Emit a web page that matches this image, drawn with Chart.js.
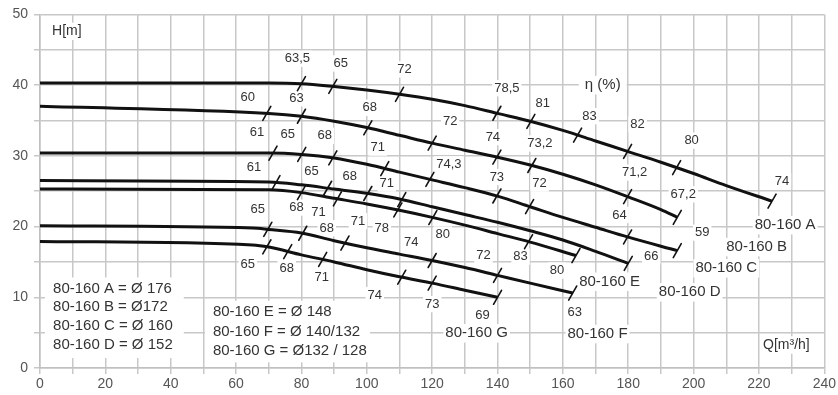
<!DOCTYPE html>
<html>
<head>
<meta charset="utf-8">
<script src="https://cdn.jsdelivr.net/npm/chart.js@4.4.1/dist/chart.umd.min.js"></script>
<style>
html,body{margin:0;padding:0;background:#fff;}
canvas{display:block;}
</style>
</head>
<body>
<canvas id="c" width="838" height="395"></canvas>
<script>
// ---- Data: pump curves H(Q) ----
const curveNames = ['80-160 A','80-160 B','80-160 C','80-160 D','80-160 E','80-160 F','80-160 G'];
const qA=[0,70,80,90,100,110,120,130,140,150,160,170,180,190,200,210,224];
const hA=[40.3,40.3,40.2,39.8,39.3,38.7,38.0,37.1,36.0,34.9,33.6,32.1,30.6,29.1,27.5,25.8,23.6];
const qB=[0,70,80,90,100,110,120,130,140,150,160,170,180,190,195];
const hB=[37.0,36.0,35.6,34.9,34.0,32.9,31.8,30.8,29.8,28.7,27.4,25.9,24.2,22.4,21.3];
const qC=[0,70,80,90,100,110,120,130,140,150,160,170,180,195];
const hC=[30.4,30.4,30.2,29.7,28.8,27.7,26.6,25.5,24.3,22.8,21.3,19.9,18.5,16.6];
const qD=[0,70,80,90,100,110,120,130,140,150,160,170,180];
const hD=[26.5,26.3,25.9,25.3,24.7,23.9,22.8,21.7,20.6,19.4,18.1,16.5,14.8];
const qE=[0,70,80,90,100,110,120,130,140,150,164];
const hE=[25.3,25.2,24.8,24.0,23.2,22.3,21.3,20.2,19.0,17.8,15.9];
const qF=[0,65,70,80,90,100,110,120,130,140,150,163];
const hF=[20.1,19.8,19.6,19.1,18.0,17.0,16.1,15.2,14.2,13.1,12.0,10.6];
const qG=[0,65,70,80,90,100,110,120,130,140];
const hG=[17.9,17.4,17.1,16.0,15.0,13.9,12.9,12.0,11.0,10.0];

// ---- Efficiency markers (Q where marked, efficiency label) ----
const effQA=[80,89.6,110,139.8,150.2,164.5,179.8,194.8,224];
const effA=['63,5','65','72','78,5','81','83','82','80','74'];
const effQB=[69.4,80,100.3,120,139.8,150.5,179.8,195];
const effB=['60','63','68','72','74','73,2','71,2','67,2'];
const effQC=[71.3,80.1,89.6,105.5,119.3,139.8,149.8,179.8,195];
const effC=['61','65','68','71','74,3','73','72','64','59'];
const effQD=[72.2,88,100.3,110.7,180];
const effD=['61','65','68','71','66'];
const effQE=[80,91,109.5,120.2,149.5,164];
const effE=['68','71','78','80','83','80'];
const effQF=[69.7,80.4,93.3,120,140,163];
const effF=['65','68','71','74','72','63'];
const effQG=[69.4,75.8,86.5,110.7,120,140];
const effG=['65','68','71','74','73','69'];

// ---- Tick labels ----
const xTickStep=10, xLabelEvery=20, yTickStep=5, yLabelEvery=10;

// ---- Text content ----
const legendLeft=['80-160 A = Ø 176','80-160 B = Ø172','80-160 C = Ø 160','80-160 D = Ø 152'];
const legendRight=['80-160 E = Ø 148','80-160 F = Ø 140/132','80-160 G = Ø132 / 128'];

// ---- Layout (label placement, not data) ----
const effOffsets=[
 [[-4,-25],[8,-23],[5,-25],[10,-25],[12,-18],[12,-19],[10,-27],[15,-27],[10,-20]],
 [[-19,-16],[-5,-18],[2,-20],[18,-22],[-4,-20],[8,-22],[7,-24],[6,-23]],
 [[-16,-21],[-14,-20],[-8,-22],[-7,-21],[19,-15],[0,-19],[10,-23],[-8,-22],[25,-18]],
 [[-22,-15],[-16,-17],[-18,-17],[-15,-16],[23,-7]],
 [[-5,15],[-19,14],[-16,18],[10,17],[-8,15],[-19,15]],
 [[-10,-20],[24,-5],[13,-22],[-21,-18],[-14,-20],[2,19]],
 [[-19,18],[-1,17],[-1,18],[-27,18],[0,21],[-15,18]]
];
const namePos=[[228,20.2],[219.3,17.1],[210,14.1],[198.8,10.7],[174.3,12.2],[170.6,4.8],[133.6,4.9]];

const curves=[[qA,hA,effQA,effA],[qB,hB,effQB,effB],[qC,hC,effQC,effC],[qD,hD,effQD,effD],[qE,hE,effQE,effE],[qF,hF,effQF,effF],[qG,hG,effQG,effG]];

function hAt(q,h,x){
  for(let i=0;i<q.length-1;i++){
    if(x>=q[i]&&x<=q[i+1]){const t=(x-q[i])/(q[i+1]-q[i]);return h[i]+t*(h[i+1]-h[i]);}
  }
  return x<q[0]?h[0]:h[h.length-1];
}

const FONT='"Liberation Sans", Arial, Helvetica, sans-serif';
const TXT='#333';

function collectTexts(chart){
  const xs=chart.scales.x, ys=chart.scales.y;
  const P=(q,h)=>[xs.getPixelForValue(q),ys.getPixelForValue(h)];
  const out=[];
  curves.forEach((c,ci)=>{
    const [q,h,eq,el]=c;
    eq.forEach((qq,k)=>{
      const [px,py]=P(qq,hAt(q,h,qq));
      const o=effOffsets[ci][k];
      out.push({t:el[k],x:px+o[0],y:py+o[1],size:13,align:'center',bg:true});
    });
    const [nx,ny]=P(namePos[ci][0],namePos[ci][1]);
    out.push({t:curveNames[ci],x:nx,y:ny,size:15,align:'center',bg:true});
  });
  let p=P(3.7,47.6); out.push({t:'H[m]',x:p[0],y:p[1],size:14,align:'left',bg:true});
  p=P(172.2,40.0); out.push({t:'η (%)',x:p[0],y:p[1],size:15,align:'center',bg:true,pad:6});
  p=P(228.4,3.25); out.push({t:'Q[m³/h]',x:p[0],y:p[1],size:14,align:'center',bg:true});
  [11.16,8.6,5.9,3.25].forEach((hh,i)=>{const pp=P(4.0,hh);out.push({t:legendLeft[i],x:pp[0],y:pp[1],size:15,align:'left'});});
  [7.9,5.1,2.4].forEach((hh,i)=>{const pp=P(52.9,hh);out.push({t:legendRight[i],x:pp[0],y:pp[1],size:15,align:'left'});});
  return out;
}

const annot={
  id:'annot',
  beforeDraw(chart){
    const ctx=chart.ctx;ctx.save();ctx.fillStyle='#fff';ctx.fillRect(0,0,chart.width,chart.height);ctx.restore();
  },
  beforeDatasetsDraw(chart){
    const ctx=chart.ctx;ctx.save();ctx.fillStyle='#fff';
    const xs=chart.scales.x, ys=chart.scales.y;
    let a=[xs.getPixelForValue(1.5),ys.getPixelForValue(12.8)], b=[xs.getPixelForValue(44),ys.getPixelForValue(1.4)];
    ctx.fillRect(a[0],a[1],b[0]-a[0],b[1]-a[1]);
    a=[xs.getPixelForValue(50.5),ys.getPixelForValue(9.5)]; b=[xs.getPixelForValue(101),ys.getPixelForValue(0.8)];
    ctx.fillRect(a[0],a[1],b[0]-a[0],b[1]-a[1]);
    collectTexts(chart).forEach(t=>{
      if(!t.bg)return;
      ctx.font=t.size+'px '+FONT;
      const w=ctx.measureText(t.t).width, pad=t.pad||2;
      const x0=t.align==='left'?t.x:t.x-w/2;
      ctx.fillRect(x0-pad,t.y-t.size*0.55-1,w+2*pad,t.size*1.1+2);
    });
    ctx.restore();
  },
  afterDatasetsDraw(chart){
    const ctx=chart.ctx, xs=chart.scales.x, ys=chart.scales.y;
    ctx.save();
    ctx.strokeStyle='#111';ctx.lineWidth=1.6;ctx.lineCap='round';
    curves.forEach(c=>{
      const [q,h,eq]=c;
      eq.forEach(qq=>{
        const px=xs.getPixelForValue(qq), py=ys.getPixelForValue(hAt(q,h,qq));
        ctx.beginPath();ctx.moveTo(px-4,py+7);ctx.lineTo(px+4,py-7);ctx.stroke();
      });
    });
    ctx.fillStyle=TXT;ctx.textBaseline='middle';
    collectTexts(chart).forEach(t=>{
      ctx.font=t.size+'px '+FONT;ctx.textAlign=t.align;
      ctx.fillText(t.t,t.x,t.y);
    });
    ctx.restore();
  }
};

const datasets=curves.map((c,i)=>({
  label:curveNames[i],
  data:c[0].map((x,k)=>({x:x,y:c[1][k]})),
  borderColor:'#111',borderWidth:3,pointRadius:0,fill:false,
  cubicInterpolationMode:'monotone'
}));

Chart.defaults.font.family=FONT;
new Chart(document.getElementById('c'),{
  type:'line',
  data:{datasets:datasets},
  options:{
    responsive:false,animation:false,devicePixelRatio:1,
    layout:{padding:{top:14,right:13,left:0,bottom:0}},
    plugins:{legend:{display:false},tooltip:{enabled:false},title:{display:false}},
    scales:{
      x:{type:'linear',min:0,max:240,
        afterFit:s=>{s.height=27;},
        grid:{color:'#c8c8c8',lineWidth:1.5,tickLength:6},
        border:{color:'#c0c0c0',width:1.5},
        ticks:{stepSize:xTickStep,autoSkip:false,maxRotation:0,padding:2,color:'#555',font:{size:14},
          callback:v=>(v%xLabelEvery===0?String(v):'')}
      },
      y:{type:'linear',min:0,max:50,
        afterFit:s=>{s.width=40;},
        grid:{color:'#c8c8c8',lineWidth:1.5,tickLength:6},
        border:{color:'#c0c0c0',width:1.5},
        ticks:{stepSize:yTickStep,autoSkip:false,padding:6,color:'#555',font:{size:14},
          callback:v=>(v%yLabelEvery===0?String(v):'')}
      }
    }
  },
  plugins:[annot]
});
</script>
</body>
</html>
